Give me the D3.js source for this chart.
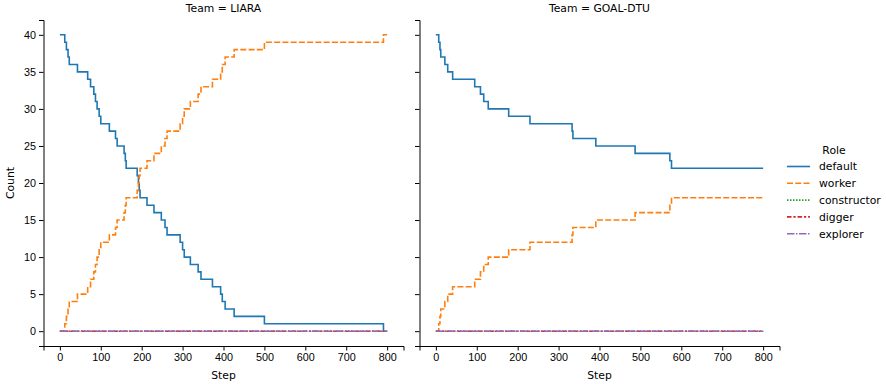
<!DOCTYPE html>
<html>
<head>
<meta charset="utf-8">
<script src="https://cdn.jsdelivr.net/npm/d3@7"></script>
<style>
  html, body { margin: 0; padding: 0; background: #fff; }
  svg { display: block; font-family: "DejaVu Sans", sans-serif; }
  .tick text { font-size: 10.8px; fill: #000; }
</style>
</head>
<body>
<svg id="chart" width="886" height="384"></svg>
<script>
// Agent counts per role over the simulation steps, one panel per team.
const teams = ["LIARA", "GOAL-DTU"];
const roles = ["default", "worker", "constructor", "digger", "explorer"];
const roleColors = ["#1f77b4", "#ff7f0e", "#2ca02c", "#d62728", "#9467bd"];
const roleDashes = [null, "6,2.25", "1.5,1.5", "4.5,1.9,2.25,1.9", "7.5,1.5,1.5,1.5"];
const xTicks = [0, 100, 200, 300, 400, 500, 600, 700, 800];
const yTicks = [0, 5, 10, 15, 20, 25, 30, 35, 40];

// [step, count] change points (the count holds until the next point)
const liaraDefault = [[0,40],[12,39],[16,38],[20,37],[23,36],[43,35],[68,34],[75,33],[83,32],[87,31],[91,30],[96,29],[100,28],[121,27],[136,26],[140,25],[157,24],[160,23],[162,22],[189,21],[192,20],[194,19],[196,18],[213,17],[230,16],[248,15],[257,14],[262,13],[294,12],[300,11],[304,10],[319,9],[338,8],[345,7],[373,6],[393,5],[397,4],[404,3],[426,2],[500,1],[791,0],[800,0]];
const liaraWorker = [[0,0],[12,1],[16,2],[20,3],[23,4],[43,5],[68,6],[75,7],[83,8],[87,9],[91,10],[96,11],[100,12],[121,13],[136,14],[140,15],[157,16],[160,17],[162,18],[189,19],[192,20],[194,21],[196,22],[213,23],[230,24],[248,25],[257,26],[262,27],[294,28],[300,29],[304,30],[319,31],[338,32],[345,33],[373,34],[393,35],[397,36],[404,37],[426,38],[500,39],[791,40],[800,40]];
const liaraConstructor = [[0,0],[800,0]];
const liaraDigger = [[0,0],[800,0]];
const liaraExplorer = [[0,0],[800,0]];

const goalDefault = [[0,40],[7,39],[10,38],[12,37],[22,36],[29,35],[41,34],[95,33],[109,32],[117,31],[128,30],[178,29],[230,28],[333,27],[335,26],[391,25],[487,24],[572,23],[576,22],[800,22]];
const goalWorker = [[0,0],[7,1],[10,2],[12,3],[22,4],[29,5],[41,6],[95,7],[109,8],[117,9],[128,10],[178,11],[230,12],[333,13],[335,14],[391,15],[487,16],[572,17],[576,18],[800,18]];
const goalConstructor = [[0,0],[800,0]];
const goalDigger = [[0,0],[800,0]];
const goalExplorer = [[0,0],[800,0]];

const teamSeries = [
  [liaraDefault, liaraWorker, liaraConstructor, liaraDigger, liaraExplorer],
  [goalDefault, goalWorker, goalConstructor, goalDigger, goalExplorer]
];

const svg = d3.select("#chart");
const panelLeft = [43.5, 419.5];
const panelW = 360, plotTop = 20, plotBottom = 346;

const y = d3.scaleLinear().domain([-2, 42]).range([plotBottom, plotTop]);

teams.forEach((team, i) => {
  const x = d3.scaleLinear().domain([-40, 840]).range([panelLeft[i], panelLeft[i] + panelW]);
  const g = svg.append("g");

  // axes
  const xAxis = g.append("g").attr("transform", `translate(0,${plotBottom})`)
    .call(d3.axisBottom(x).tickValues(xTicks).tickSize(4.5).tickPadding(3));
  const yAxis = g.append("g").attr("transform", `translate(${panelLeft[i]},0)`)
    .call(d3.axisLeft(y).tickValues(yTicks).tickSize(4.5).tickPadding(3)
      .tickFormat(i === 0 ? d3.format("d") : () => ""));
  [xAxis, yAxis].forEach(a => {
    a.select(".domain").attr("stroke", "#000").attr("stroke-width", 1);
    a.selectAll(".tick line").attr("stroke", "#000").attr("stroke-width", 1);
  });

  // role lines
  const line = d3.line().x(d => x(d[0])).y(d => y(d[1])).curve(d3.curveStepAfter);
  teamSeries[i].forEach((series, r) => {
    g.append("path")
      .datum(series)
      .attr("d", line)
      .attr("fill", "none")
      .attr("stroke", roleColors[r])
      .attr("stroke-width", 1.6)
      .attr("stroke-dasharray", roleDashes[r]);
  });

  // panel title and x label
  const cx = panelLeft[i] + panelW / 2;
  g.append("text").attr("x", cx).attr("y", 12).attr("text-anchor", "middle")
    .attr("font-size", 10.8).text(`Team = ${team}`);
  g.append("text").attr("x", cx).attr("y", 379).attr("text-anchor", "middle")
    .attr("font-size", 10.8).text("Step");
});

// y label
svg.append("text")
  .attr("transform", `translate(14,${(plotTop + plotBottom) / 2}) rotate(-90)`)
  .attr("text-anchor", "middle").attr("font-size", 10.8).text("Count");

// legend
const lg = svg.append("g");
lg.append("text").attr("x", 834).attr("y", 154).attr("text-anchor", "middle")
  .attr("font-size", 10.8).text("Role");
roles.forEach((role, r) => {
  const yy = 166.5 + r * 16.8;
  lg.append("line").attr("x1", 787).attr("x2", 810).attr("y1", yy).attr("y2", yy)
    .attr("stroke", roleColors[r]).attr("stroke-width", 1.6)
    .attr("stroke-dasharray", roleDashes[r]);
  lg.append("text").attr("x", 819).attr("y", yy + 3.8).attr("font-size", 10.8).text(role);
});
</script>
</body>
</html>
